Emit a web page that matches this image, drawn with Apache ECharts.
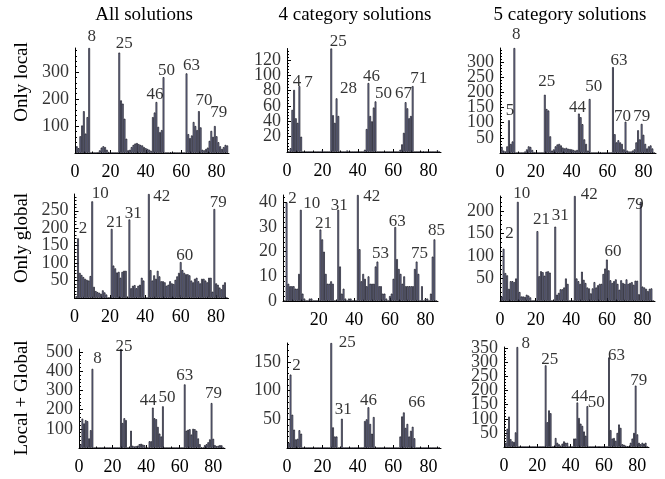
<!DOCTYPE html>
<html>
<head>
<meta charset="utf-8">
<script src="https://cdn.jsdelivr.net/npm/echarts@6/dist/echarts.min.js"></script>
<style>
  html, body { margin: 0; padding: 0; background: #ffffff; }
  #chart { width: 665px; height: 479px; }
</style>
</head>
<body>
<div id="chart"></div>
<script>
// ---- labels ----
const columnTitles = ['All solutions', '4 category solutions', '5 category solutions'];
const rowTitles = ['Only local', 'Only global', 'Local + Global'];

// ---- bar positions (item numbers 1..86) ----
const barPositions = Array.from({ length: 86 }, (_, k) => k + 1);

// ---- counts per item ----
const onlyLocalAll = [
  25, 18, 62, 102, 155, 72, 133, 389, 0, 0,
  0, 0, 3, 10, 20, 25, 22, 12, 4, 0,
  0, 0, 0, 0, 372, 195, 183, 127, 53, 10,
  12, 22, 30, 35, 37, 33, 30, 28, 22, 18,
  15, 12, 8, 133, 150, 189, 97, 77, 85, 281,
  0, 0, 0, 3, 0, 2, 0, 0, 0, 0,
  0, 0, 295, 70, 55, 65, 115, 100, 85, 155,
  95, 12, 10, 15, 20, 45, 82, 60, 100, 62,
  40, 25, 15, 22, 30, 28];
const onlyLocal4 = [
  0, 5, 55, 81, 44, 38, 86, 20, 0, 0,
  0, 0, 0, 0, 0, 0, 0, 0, 0, 2,
  0, 0, 0, 0, 135, 48, 38, 70, 47, 0,
  0, 0, 0, 2, 0, 0, 0, 0, 0, 0,
  0, 0, 0, 3, 30, 90, 47, 40, 58, 66,
  0, 0, 0, 0, 0, 0, 0, 0, 0, 0,
  0, 0, 0, 3, 10, 25, 65, 57, 44, 47,
  86, 0, 0, 0, 0, 0, 1, 0, 0, 0,
  0, 0, 0, 0, 2, 0];
const onlyLocal5 = [
  20, 8, 5, 22, 108, 30, 38, 346, 0, 0,
  0, 0, 0, 5, 12, 22, 20, 10, 3, 0,
  0, 0, 0, 0, 192, 145, 140, 55, 8, 12,
  22, 28, 30, 25, 18, 15, 17, 14, 13, 12,
  10, 8, 10, 130, 118, 95, 45, 30, 8, 178,
  0, 0, 0, 0, 0, 3, 0, 0, 0, 0,
  0, 0, 283, 62, 35, 42, 35, 30, 12, 103,
  8, 5, 5, 8, 12, 35, 75, 45, 96, 60,
  30, 15, 22, 25, 15, 0];
const onlyGlobalAll = [
  5, 171, 72, 66, 60, 55, 52, 50, 63, 277,
  32, 20, 17, 15, 12, 22, 16, 10, 2, 0,
  198, 93, 85, 73, 75, 58, 75, 78, 78, 0,
  225, 28, 35, 37, 28, 35, 38, 58, 50, 0,
  0, 298, 80, 50, 65, 55, 78, 62, 48, 48,
  45, 35, 38, 48, 42, 40, 52, 62, 72, 103,
  80, 72, 68, 68, 65, 50, 45, 55, 58, 48,
  42, 55, 55, 50, 45, 58, 58, 18, 255, 42,
  38, 30, 25, 38, 45, 0];
const onlyGlobal4 = [
  0, 40, 7, 6, 6, 6, 5, 5, 11, 37,
  3, 1, 0, 0, 1, 1, 0, 0, 0, 0,
  29, 25, 20, 11, 7, 7, 8, 7, 0, 0,
  37, 14, 3, 5, 1, 0, 1, 1, 0, 0,
  0, 43, 21, 8, 11, 9, 6, 10, 7, 7,
  7, 14, 16, 6, 6, 3, 3, 1, 0, 2,
  3, 9, 30, 17, 13, 11, 7, 10, 6, 6,
  6, 6, 6, 13, 16, 11, 0, 6, 0, 1,
  1, 0, 3, 18, 25, 0];
const onlyGlobal5 = [
  10, 116, 62, 57, 27, 44, 44, 42, 50, 220,
  20, 10, 10, 9, 14, 12, 8, 0, 0, 0,
  155, 55, 66, 64, 56, 65, 66, 63, 0, 0,
  165, 14, 18, 26, 26, 30, 50, 38, 0, 0,
  0, 233, 50, 44, 38, 65, 47, 40, 30, 28,
  17, 28, 42, 30, 35, 38, 38, 60, 72, 92,
  68, 46, 40, 44, 48, 38, 25, 46, 40, 38,
  48, 38, 40, 42, 36, 45, 45, 15, 220, 32,
  30, 27, 22, 27, 28, 0];
const bothAll = [
  20, 153, 128, 145, 140, 50, 93, 412, 0, 0,
  0, 0, 0, 0, 0, 0, 0, 0, 0, 2,
  0, 0, 0, 0, 515, 130, 155, 145, 0, 0,
  90, 12, 8, 10, 12, 20, 22, 18, 15, 3,
  0, 35, 35, 210, 155, 150, 110, 75, 60, 217,
  0, 0, 0, 0, 0, 2, 0, 0, 0, 0,
  0, 0, 331, 90, 95, 98, 70, 100, 98, 90,
  50, 20, 3, 3, 15, 20, 30, 45, 234, 48,
  15, 10, 12, 15, 14, 0];
const both4 = [
  9, 128, 58, 32, 15, 16, 31, 25, 0, 0,
  0, 0, 0, 0, 0, 0, 0, 0, 0, 0,
  0, 0, 0, 0, 183, 36, 20, 20, 0, 0,
  51, 0, 0, 0, 0, 0, 0, 0, 0, 0,
  0, 0, 1, 47, 50, 71, 42, 25, 54, 0,
  0, 0, 0, 0, 0, 0, 0, 0, 0, 0,
  0, 0, 0, 20, 55, 62, 35, 42, 20, 30,
  37, 17, 0, 0, 0, 0, 0, 0, 0, 0,
  0, 0, 0, 0, 0, 1];
const both5 = [
  15, 65, 108, 28, 20, 18, 52, 355, 0, 0,
  0, 0, 0, 0, 0, 0, 0, 0, 0, 2,
  0, 0, 0, 0, 290, 88, 130, 120, 0, 0,
  32, 15, 10, 5, 12, 20, 15, 15, 0, 0,
  0, 30, 30, 158, 103, 83, 75, 55, 40, 145,
  0, 0, 0, 0, 0, 0, 3, 0, 0, 0,
  0, 0, 318, 60, 30, 32, 22, 50, 80, 68,
  10, 8, 5, 3, 3, 15, 30, 50, 218, 45,
  15, 10, 15, 12, 15, 0];

// ---- annotated peaks (item numbers) ----
const onlyLocalAllPeaks = [8, 25, 46, 50, 63, 70, 79];
const onlyLocal4Peaks = [4, 7, 25, 28, 46, 50, 67, 71];
const onlyLocal5Peaks = [5, 8, 25, 44, 50, 63, 70, 79];
const onlyGlobalAllPeaks = [2, 10, 21, 31, 42, 60, 79];
const onlyGlobal4Peaks = [2, 10, 21, 31, 42, 53, 63, 75, 85];
const onlyGlobal5Peaks = [2, 10, 21, 31, 42, 60, 79];
const bothAllPeaks = [8, 25, 44, 50, 63, 79];
const both4Peaks = [2, 25, 31, 46, 66];
const both5Peaks = [8, 25, 44, 50, 63, 79];

// ---- tick labels ----
const xTicks = [0, 20, 40, 60, 80];
const xTicksNoZero = [20, 40, 60, 80];
const yTicksOnlyLocalAll = [100, 200, 300];
const yTicksOnlyLocal4 = [20, 40, 60, 80, 100, 120];
const yTicksOnlyLocal5 = [50, 100, 150, 200, 250, 300];
const yTicksOnlyGlobalAll = [50, 100, 150, 200, 250];
const yTicksOnlyGlobal4 = [0, 10, 20, 30, 40];
const yTicksOnlyGlobal5 = [50, 100, 150, 200];
const yTicksBothAll = [100, 200, 300, 400, 500];
const yTicksBoth4 = [50, 100, 150];
const yTicksBoth5 = [50, 100, 150, 200, 250, 300, 350];

const panels = [
  { values: onlyLocalAll, peaks: onlyLocalAllPeaks, xTicks: xTicks, yTicks: yTicksOnlyLocalAll },
  { values: onlyLocal4, peaks: onlyLocal4Peaks, xTicks: xTicks, yTicks: yTicksOnlyLocal4 },
  { values: onlyLocal5, peaks: onlyLocal5Peaks, xTicks: xTicks, yTicks: yTicksOnlyLocal5 },
  { values: onlyGlobalAll, peaks: onlyGlobalAllPeaks, xTicks: xTicks, yTicks: yTicksOnlyGlobalAll },
  { values: onlyGlobal4, peaks: onlyGlobal4Peaks, xTicks: xTicksNoZero, yTicks: yTicksOnlyGlobal4 },
  { values: onlyGlobal5, peaks: onlyGlobal5Peaks, xTicks: xTicks, yTicks: yTicksOnlyGlobal5 },
  { values: bothAll, peaks: bothAllPeaks, xTicks: xTicks, yTicks: yTicksBothAll },
  { values: both4, peaks: both4Peaks, xTicks: xTicks, yTicks: yTicksBoth4 },
  { values: both5, peaks: both5Peaks, xTicks: xTicks, yTicks: yTicksBoth5 }
];

// ---- layout and styling ----
const X_MAX = 87;
const FONT = '"Liberation Serif", "DejaVu Serif", serif';
const BAR_FILL = '#9a9ecc';
const BAR_EDGE = '#101018';

const plotBoxes = [
  { left: 75,  top: 48,  width: 154, height: 105 },
  { left: 287, top: 48.5, width: 154, height: 103.5 },
  { left: 500, top: 48,  width: 156, height: 105 },
  { left: 74.5, top: 194, width: 154, height: 104 },
  { left: 283, top: 195, width: 155, height: 106 },
  { left: 500, top: 196, width: 155, height: 105 },
  { left: 79,  top: 349, width: 146, height: 99 },
  { left: 287, top: 343, width: 154, height: 105 },
  { left: 504, top: 347, width: 145, height: 100 }
];

// label centre offsets (px) from the top centre of each annotated bar
const peakLabelOffsets = [
  [[2.5, -11], [5, -9], [-1.5, -7], [3, -7], [5, -8], [5, -11], [4, -13]],
  [[3, -8], [9, -4], [7, -7], [12, -10], [3, -6], [8, -8], [-2, -9], [6, -8]],
  [[1, -10], [2, -13], [2, -13], [-1.5, -6], [4, -12], [6, -7], [-3, -5], [0, -7]],
  [[5, -10], [8, -8], [3, -6], [4, -6], [13, 3], [4, -7], [4, -6]],
  [[6, -4], [11, -6], [3, -6], [1, -4], [14, 2], [3, -8], [2, -6], [3, -8], [2, -9]],
  [[6, -15], [4, -8], [4, -12], [5, -11], [14.5, -1], [6, -8], [-5.5, 3]],
  [[5, -10], [3, -2], [-4.5, -7.5], [4, -9], [0, -9], [2, -9.5]],
  [[6, -9], [16, 0], [1.5, -9], [0, -7], [13, -10]],
  [[8.5, -3], [4, -6], [2.5, -6], [9, -4], [7.5, -2], [3, -5]]
];

const titleCentres = [[144, 15], [355, 15], [570, 15]];
const rowTitleCentres = [[22, 82], [22, 238], [22, 398]];

const grids = [], xAxes = [], yAxes = [], series = [];

panels.forEach((p, k) => {
  const box = plotBoxes[k];
  grids.push({ left: box.left, top: box.top, width: box.width, height: box.height, containLabel: false });

  xAxes.push({
    gridIndex: k, type: 'value', min: 0, max: X_MAX, interval: 20,
    splitLine: { show: false },
    axisLine: { show: true, onZero: true, lineStyle: { color: '#000', width: 1 } },
    axisTick: { show: true, inside: true, length: 3, customValues: p.xTicks, lineStyle: { color: '#000', width: 1 } },
    minorTick: { show: true, splitNumber: 4, length: 1.5, lineStyle: { color: '#000', width: 1 } },
    axisLabel: {
      show: true, customValues: p.xTicks, margin: 10, hideOverlap: false,
      showMinLabel: true, showMaxLabel: true,
      fontFamily: FONT, fontSize: 18, color: '#000'
    }
  });

  const step = p.yTicks[1] - p.yTicks[0];
  yAxes.push({
    gridIndex: k, type: 'value', min: 0, max: 'dataMax', interval: step,
    splitLine: { show: false },
    axisLine: { show: true, onZero: true, lineStyle: { color: '#000', width: 1 } },
    axisTick: { show: true, inside: true, length: 4, customValues: p.yTicks, lineStyle: { color: '#000', width: 1 } },
    minorTick: { show: true, splitNumber: 5, length: 2, lineStyle: { color: '#000', width: 1 } },
    // tick numbers are drawn by the label series below so that close ones all stay visible
    axisLabel: { show: false }
  });

  series.push({
    type: 'bar', xAxisIndex: k, yAxisIndex: k,
    barWidth: box.width / X_MAX,
    data: barPositions.map((x, j) => [x, p.values[j]]),
    itemStyle: { color: BAR_FILL, borderColor: BAR_EDGE, borderWidth: 0.7 },
    emphasis: { disabled: true },
    silent: true
  });

  // y tick numbers, placed on the axis at each tick value
  series.push({
    type: 'scatter', xAxisIndex: k, yAxisIndex: k,
    symbolSize: 0, silent: true, clip: false, z: 6,
    data: p.yTicks.map(v => [0, v]),
    label: {
      show: true, position: 'left', distance: 6,
      formatter: (d) => String(d.value[1]),
      fontFamily: FONT, fontSize: 18, color: '#000'
    }
  });

  // peak annotations: item number above its bar
  const offsets = peakLabelOffsets[k];
  series.push({
    type: 'scatter', xAxisIndex: k, yAxisIndex: k,
    symbolSize: 0, silent: true, clip: false, z: 5,
    data: p.peaks.map((i, j) => ({
      value: [i, p.values[i - 1]],
      label: { offset: offsets[j] }
    })),
    label: {
      show: true, position: 'inside', align: 'center', verticalAlign: 'middle',
      formatter: (d) => String(d.value[0]),
      fontFamily: FONT, fontSize: 17, color: '#000'
    }
  });
});

const graphics = [];
columnTitles.forEach((t, c) => {
  graphics.push({
    type: 'text', x: titleCentres[c][0], y: titleCentres[c][1],
    style: { text: t, fontFamily: FONT, fontSize: 19, fill: '#000', textAlign: 'center', textVerticalAlign: 'middle' }
  });
});
rowTitles.forEach((t, r) => {
  graphics.push({
    type: 'text', x: rowTitleCentres[r][0], y: rowTitleCentres[r][1], rotation: Math.PI / 2,
    style: { text: t, fontFamily: FONT, fontSize: 19, fill: '#000', textAlign: 'center', textVerticalAlign: 'middle' }
  });
});

const chart = echarts.init(document.getElementById('chart'), null, { renderer: 'canvas' });
chart.setOption({
  animation: false,
  backgroundColor: '#ffffff',
  grid: grids,
  xAxis: xAxes,
  yAxis: yAxes,
  series: series,
  graphic: graphics
});
</script>
</body>
</html>
